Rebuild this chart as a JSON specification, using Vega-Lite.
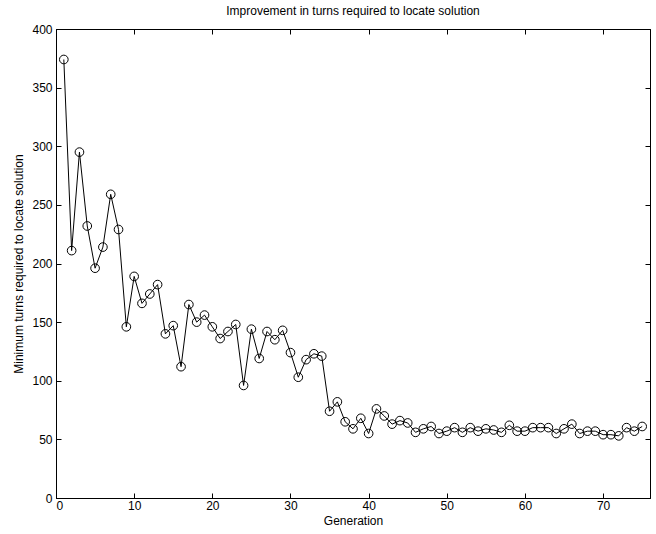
{
  "$schema": "https://vega.github.io/schema/vega-lite/v6.json",
  "width": 594,
  "height": 469,
  "autosize": "none",
  "padding": {"left": 56, "top": 29, "right": 6, "bottom": 36},
  "background": "white",
  "config": {
    "font": "Liberation Sans",
    "view": {"stroke": "black", "strokeWidth": 1},
    "axis": {"grid": false, "domain": true, "domainColor": "black", "domainWidth": 1, "tickColor": "black", "tickSize": -5, "tickWidth": 1, "labelColor": "black", "labelFont": "Liberation Sans", "labelFontSize": 12, "titleFont": "Liberation Sans", "titleFontSize": 12, "titleFontWeight": "normal", "titleColor": "black"}
  },
  "title": {"text": "Improvement in turns required to locate solution", "fontSize": 12, "fontWeight": "normal", "font": "Liberation Sans", "color": "black", "offset": 5},
  "data": {"values": [
    {"g":1,"v":374},{"g":2,"v":211},{"g":3,"v":295},{"g":4,"v":232},{"g":5,"v":196},
    {"g":6,"v":214},{"g":7,"v":259},{"g":8,"v":229},{"g":9,"v":146},{"g":10,"v":189},
    {"g":11,"v":166},{"g":12,"v":174},{"g":13,"v":182},{"g":14,"v":140},{"g":15,"v":147},
    {"g":16,"v":112},{"g":17,"v":165},{"g":18,"v":150},{"g":19,"v":156},{"g":20,"v":146},
    {"g":21,"v":136},{"g":22,"v":142},{"g":23,"v":148},{"g":24,"v":96},{"g":25,"v":144},
    {"g":26,"v":119},{"g":27,"v":142},{"g":28,"v":135},{"g":29,"v":143},{"g":30,"v":124},
    {"g":31,"v":103},{"g":32,"v":118},{"g":33,"v":123},{"g":34,"v":121},{"g":35,"v":74},
    {"g":36,"v":82},{"g":37,"v":65},{"g":38,"v":59},{"g":39,"v":68},{"g":40,"v":55},
    {"g":41,"v":76},{"g":42,"v":70},{"g":43,"v":63},{"g":44,"v":66},{"g":45,"v":64},
    {"g":46,"v":56},{"g":47,"v":59},{"g":48,"v":61},{"g":49,"v":55},{"g":50,"v":57},
    {"g":51,"v":60},{"g":52,"v":56},{"g":53,"v":60},{"g":54,"v":57},{"g":55,"v":59},
    {"g":56,"v":58},{"g":57,"v":56},{"g":58,"v":62},{"g":59,"v":57},{"g":60,"v":57},
    {"g":61,"v":60},{"g":62,"v":60},{"g":63,"v":60},{"g":64,"v":55},{"g":65,"v":59},
    {"g":66,"v":63},{"g":67,"v":55},{"g":68,"v":57},{"g":69,"v":57},{"g":70,"v":54},
    {"g":71,"v":54},{"g":72,"v":53},{"g":73,"v":60},{"g":74,"v":57},{"g":75,"v":61}
  ]},
  "layer": [
    {
      "mark": {"type": "line", "color": "black", "strokeWidth": 1},
      "encoding": {
        "x": {"field": "g", "type": "quantitative", "scale": {"domain": [0, 76], "nice": false}, "axis": {"title": "Generation", "values": [0,10,20,30,40,50,60,70], "labelPadding": 7, "titlePadding": 4}},
        "y": {"field": "v", "type": "quantitative", "scale": {"domain": [0, 400], "nice": false}, "axis": {"title": "Minimum turns required to locate solution", "values": [0,50,100,150,200,250,300,350,400], "labelPadding": 9, "titlePadding": 6}}
      }
    },
    {
      "mark": {"type": "point", "shape": "circle", "filled": false, "color": "black", "strokeWidth": 1, "size": 75, "opacity": 1},
      "encoding": {
        "x": {"field": "g", "type": "quantitative", "axis": {"orient": "top", "title": null, "labels": false, "values": [0,10,20,30,40,50,60,70]}},
        "y": {"field": "v", "type": "quantitative", "axis": {"orient": "right", "title": null, "labels": false, "values": [0,50,100,150,200,250,300,350,400]}}
      }
    }
  ],
  "resolve": {"axis": {"x": "independent", "y": "independent"}}
}
